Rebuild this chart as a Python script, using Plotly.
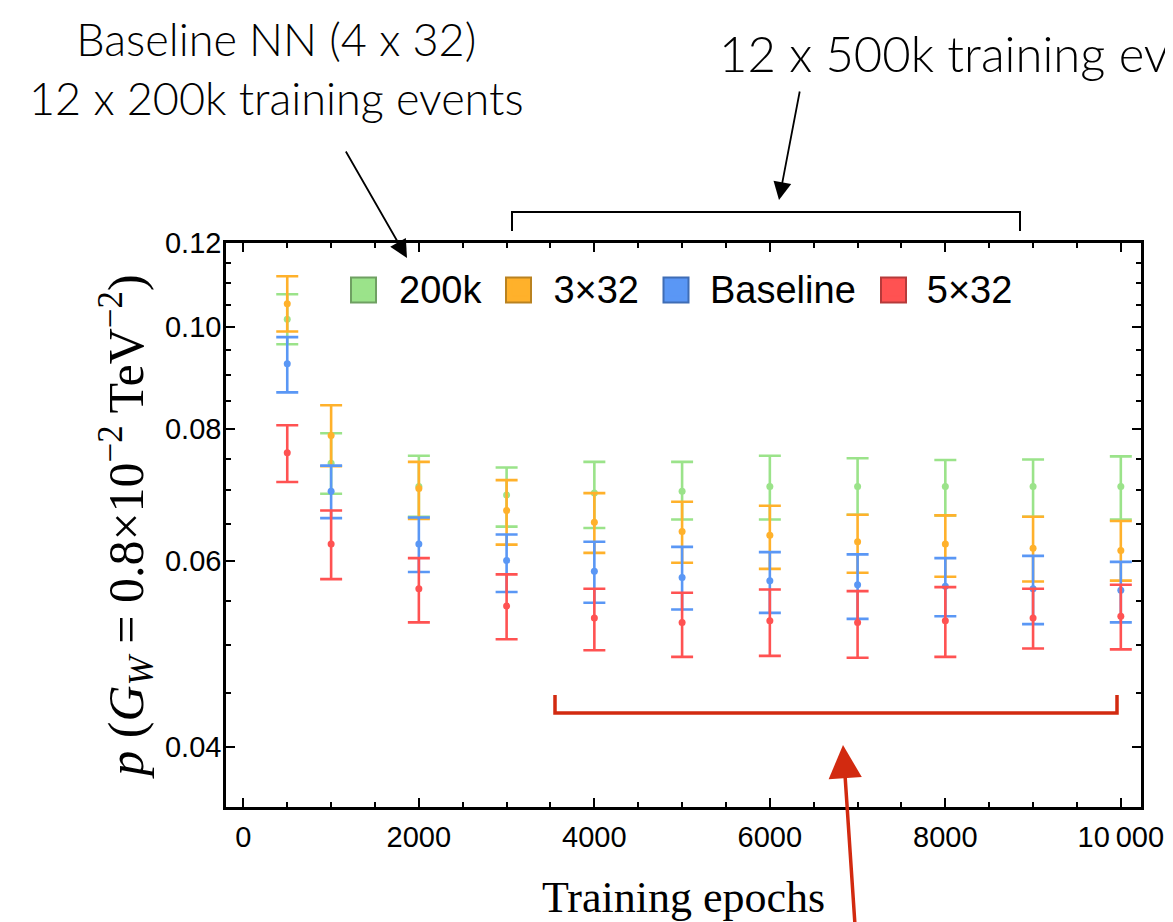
import plotly.graph_objects as go

# ---------------- data ----------------
epochs = [500, 1000, 2000, 3000, 4000, 5000, 6000, 7000, 8000, 9000, 10000]
series_names = ["200k", "3×32", "Baseline", "5×32"]

p_200k = [0.1017, 0.0743, 0.0706, 0.0693, 0.0696, 0.0699, 0.0706, 0.0706, 0.0706, 0.0706, 0.0706]
hi_200k = [0.1074, 0.0793, 0.0755, 0.0736, 0.0745, 0.0745, 0.0755, 0.0751, 0.0748, 0.0749, 0.0754]
lo_200k = [0.0963, 0.0695, 0.0661, 0.0647, 0.0645, 0.0657, 0.0657, 0.0664, 0.0663, 0.0661, 0.0657]

p_3x32 = [0.1052, 0.0789, 0.0703, 0.0670, 0.0653, 0.0640, 0.0635, 0.0626, 0.0623, 0.0617, 0.0614]
hi_3x32 = [0.1117, 0.0843, 0.0745, 0.0716, 0.0696, 0.0683, 0.0677, 0.0664, 0.0663, 0.0661, 0.0655]
lo_3x32 = [0.0990, 0.0738, 0.0658, 0.0622, 0.0611, 0.0598, 0.0590, 0.0585, 0.0580, 0.0574, 0.0575]

p_base = [0.0923, 0.0699, 0.0623, 0.0601, 0.0587, 0.0579, 0.0575, 0.0570, 0.0568, 0.0565, 0.0563]
hi_base = [0.0978, 0.0739, 0.0660, 0.0636, 0.0626, 0.0619, 0.0612, 0.0609, 0.0604, 0.0607, 0.0599]
lo_base = [0.0867, 0.0659, 0.0586, 0.0561, 0.0548, 0.0540, 0.0536, 0.0529, 0.0532, 0.0523, 0.0525]

p_5x32 = [0.0760, 0.0623, 0.0565, 0.0544, 0.0530, 0.0525, 0.0527, 0.0525, 0.0527, 0.0530, 0.0532]
hi_5x32 = [0.0807, 0.0670, 0.0604, 0.0583, 0.0565, 0.0560, 0.0564, 0.0562, 0.0567, 0.0565, 0.0570]
lo_5x32 = [0.0713, 0.0577, 0.0525, 0.0506, 0.0494, 0.0487, 0.0488, 0.0486, 0.0487, 0.0496, 0.0495]

x_tickvals = [0, 2000, 4000, 6000, 8000, 10000]
x_ticktext = ["0", "2000", "4000", "6000", "8000", "10\u2009000"]
y_tickvals = [0.04, 0.06, 0.08, 0.10, 0.12]
y_ticktext = ["0.04", "0.06", "0.08", "0.10", "0.12"]
y_minor = [0.035, 0.045, 0.05, 0.055, 0.065, 0.07, 0.075, 0.085, 0.09, 0.095, 0.105, 0.11, 0.115]

colors = ["#9BE38A", "#FFB12B", "#5A97F5", "#FF5252"]
edge_colors = ["#6FA062", "#B98220", "#3F6DB5", "#B53A3A"]
centers = [p_200k, p_3x32, p_base, p_5x32]
highs = [hi_200k, hi_3x32, hi_base, hi_5x32]
lows = [lo_200k, lo_3x32, lo_base, lo_5x32]

# ---------------- figure geometry ----------------
# the page body adds an 8 px margin, so the figure is laid out 8 px up/left
W, H = 1173, 922
OFF = 8
FL, FT, FR, FB = 226, 243, 1141, 807          # frame edges as seen on screen
L, T = FL - OFF, FT - OFF
R, B = W - (FR - OFF), H - (FB - OFF)
PW, PH = FR - FL, FB - FT


def px(x):
    return (x - FL) / PW


def py(y):
    return (FB - y) / PH


fig = go.Figure()

for name, c, mid, hi, lo in zip(series_names, colors, centers, highs, lows):
    up = [h - m for h, m in zip(hi, mid)]
    dn = [m - l for m, l in zip(mid, lo)]
    fig.add_trace(go.Scatter(
        x=epochs, y=mid, mode="markers", name=name, showlegend=False,
        marker=dict(color=c, size=7),
        error_y=dict(type="data", symmetric=False, array=up, arrayminus=dn,
                     color=c, thickness=2.6, width=11),
    ))

# legend entries
for name, c in zip(series_names, colors):
    fig.add_trace(go.Scatter(
        x=[None], y=[None], mode="markers", name=name,
        marker=dict(symbol="square", size=16, color=c, line=dict(color=c, width=1)),
    ))

axis_common = dict(
    showline=True, linecolor="black", linewidth=2.5, mirror="allticks",
    ticks="inside", ticklen=9, tickwidth=2, tickcolor="black",
    showgrid=False, zeroline=False, automargin=False,
    tickfont=dict(family="Liberation Sans, Arial", size=29, color="black"),
)

fig.update_xaxes(
    **axis_common,
    range=[-198, 10230],
    tickmode="array", tickvals=x_tickvals, ticktext=x_ticktext,
    minor=dict(ticks="inside", ticklen=5, tickwidth=1.5, tickcolor="black", dtick=500, tick0=0),
    ticklabelstandoff=2,
    title=dict(text="Training epochs",
               font=dict(family="Liberation Serif, Times New Roman", size=44, color="black"),
               standoff=30),
)
fig.update_yaxes(
    **axis_common,
    type="log",
    range=[-1.4547, -0.9205],
    tickmode="array", tickvals=y_tickvals, ticktext=y_ticktext,
    minor=dict(ticks="inside", ticklen=5, tickwidth=1.5, tickcolor="black",
               tickmode="array", tickvals=y_minor),
    ticklabelstandoff=-4,
    title=dict(text="<i>p</i> (<i>G</i><sub><i>W</i></sub> = 0.8×10<sup>−2</sup> TeV<sup>−2</sup>)",
               font=dict(family="Liberation Serif, Times New Roman", size=50, color="black"),
               standoff=6),
)

ann_font = dict(family="Lato", size=45, color="black", weight=300)
annotations = [
    dict(text="Baseline NN (4 x 32)<br>12 x 200k training events", x=px(276), y=py(69),
         xref="paper", yref="paper", xanchor="center", yanchor="middle", align="center",
         showarrow=False, font=ann_font),
    dict(text="12 x 500k training events", x=px(717), y=py(53), xref="paper", yref="paper",
         xanchor="left", yanchor="middle", showarrow=False, font=dict(ann_font, size=49)),
    # black arrows
    dict(text="", x=px(407), y=py(258), xref="paper", yref="paper", showarrow=True,
         ax=-62, ay=-108, arrowhead=2, arrowsize=2.0, arrowwidth=1.8, arrowcolor="black", standoff=0),
    dict(text="", x=px(779), y=py(200), xref="paper", yref="paper", showarrow=True,
         ax=21, ay=-110, arrowhead=2, arrowsize=2.0, arrowwidth=1.8, arrowcolor="black", standoff=0),
    # red arrow
    dict(text="", x=px(843), y=py(745), xref="paper", yref="paper", showarrow=True,
         ax=12, ay=180, arrowhead=2, arrowsize=1.9, arrowwidth=3.5, arrowcolor="#D22A10", standoff=0),
]

shapes = [
    dict(type="path", xref="paper", yref="paper",
         path=f"M {px(512)},{py(231)} L {px(512)},{py(212)} L {px(1020)},{py(212)} L {px(1020)},{py(231)}",
         line=dict(color="black", width=2)),
    dict(type="path", xref="paper", yref="paper",
         path=f"M {px(555)},{py(695)} L {px(555)},{py(713)} L {px(1117)},{py(713)} L {px(1117)},{py(695)}",
         line=dict(color="#D22A10", width=3.5)),
]

# larger legend swatches (framed squares) behind the legend symbols
swatch_x = [363.5, 518.5, 676, 893.5]
for sx, c, ec in zip(swatch_x, colors, edge_colors):
    shapes.append(dict(type="rect", xref="paper", yref="paper",
                       x0=px(sx - 12.5), x1=px(sx + 12.5), y0=py(290 + 12.5), y1=py(290 - 12.5),
                       fillcolor=c, line=dict(color=ec, width=2)))

fig.update_layout(
    width=W, height=H,
    margin=dict(l=L, r=R, t=T, b=B, autoexpand=False),
    paper_bgcolor="white", plot_bgcolor="white",
    showlegend=True,
    legend=dict(orientation="h", x=px(333), y=py(288), xanchor="left", yanchor="middle",
                bgcolor="rgba(0,0,0,0)", font=dict(family="Liberation Sans, Arial", size=38, color="black"),
                itemwidth=56, traceorder="normal"),
    annotations=annotations,
    shapes=shapes,
)

fig.write_html("out.html")
